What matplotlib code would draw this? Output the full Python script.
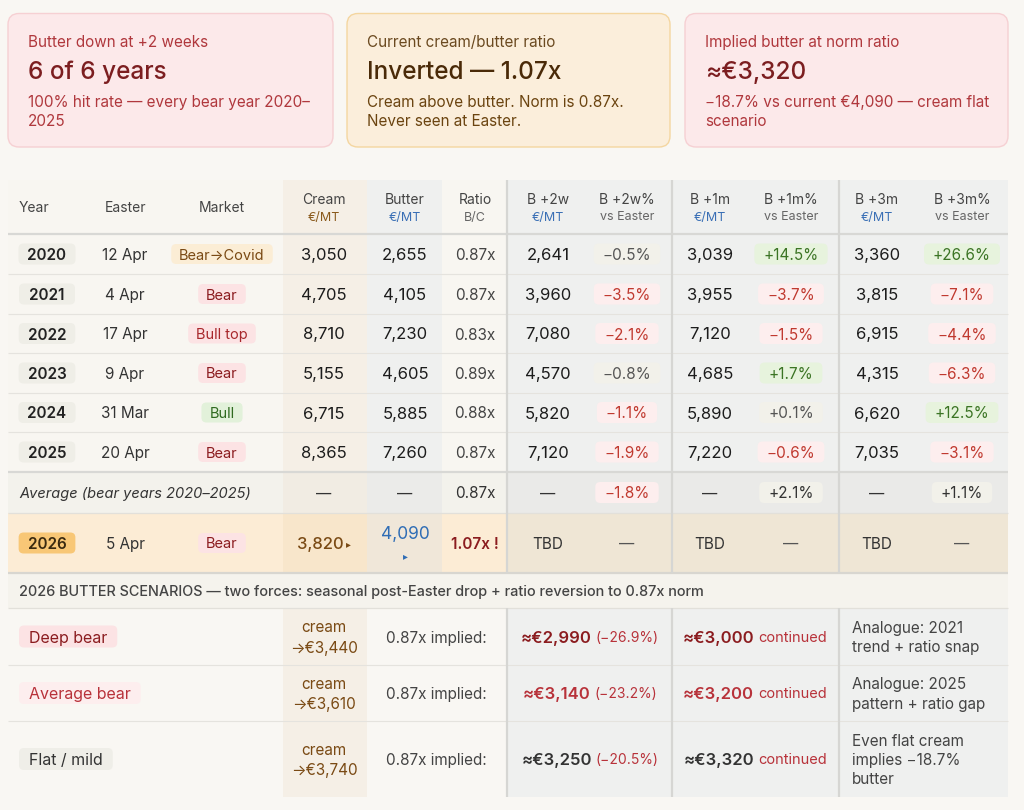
import matplotlib
matplotlib.use('Agg')
import matplotlib.pyplot as plt
from matplotlib.patches import FancyBboxPatch, Rectangle

FONT = ['Inter', 'DejaVu Sans']
plt.rcParams['font.family'] = FONT

# ---------------- data ----------------
card_labels = ['Butter down at +2 weeks', 'Current cream/butter ratio', 'Implied butter at norm ratio']
card_values = ['6 of 6 years', 'Inverted — 1.07x', '≈€3,320']
card_notes = [['100% hit rate — every bear year 2020–', '2025'],
              ['Cream above butter. Norm is 0.87x.', 'Never seen at Easter.'],
              ['−18.7% vs current €4,090 — cream flat', 'scenario']]

years = ['2020', '2021', '2022', '2023', '2024', '2025']
easter = ['12 Apr', '4 Apr', '17 Apr', '9 Apr', '31 Mar', '20 Apr']
market = ['Bear→Covid', 'Bear', 'Bull top', 'Bear', 'Bull', 'Bear']
market_tone = ['amber', 'red', 'red2', 'red', 'green', 'red']
cream = [3050, 4705, 8710, 5155, 6715, 8365]
butter = [2655, 4105, 7230, 4605, 5885, 7260]
ratio = [0.87, 0.87, 0.83, 0.89, 0.88, 0.87]
b2w = [2641, 3960, 7080, 4570, 5820, 7120]
b2w_pct = [-0.5, -3.5, -2.1, -0.8, -1.1, -1.9]
b2w_tone = ['neu', 'neg', 'neg', 'neu', 'neg', 'neg']
b1m = [3039, 3955, 7120, 4685, 5890, 7220]
b1m_pct = [14.5, -3.7, -1.5, 1.7, 0.1, -0.6]
b1m_tone = ['pos', 'neg', 'neg', 'pos', 'neu', 'neg']
b3m = [3360, 3815, 6915, 4315, 6620, 7035]
b3m_pct = [26.6, -7.1, -4.4, -6.3, 12.5, -3.1]
b3m_tone = ['pos', 'neg', 'neg', 'neg', 'pos', 'neg']

avg_label = 'Average (bear years 2020–2025)'
avg_ratio = 0.87
avg_pct = [-1.8, 2.1, 1.1]
avg_tone = ['neg', 'neu', 'neu']

cur_year = '2026'
cur_easter = '5 Apr'
cur_market = 'Bear'
cur_cream = 3820
cur_butter = 4090
cur_ratio = 1.07

scen_title = '2026 BUTTER SCENARIOS — two forces: seasonal post-Easter drop + ratio reversion to 0.87x norm'
scen_names = ['Deep bear', 'Average bear', 'Flat / mild']
scen_tone = ['red', 'red3', 'gray']
scen_cream = [3440, 3610, 3740]
scen_implied = [2990, 3140, 3250]
scen_implied_pct = [-26.9, -23.2, -20.5]
scen_cont = [3000, 3200, 3320]
scen_notes = [['Analogue: 2021', 'trend + ratio snap'],
              ['Analogue: 2025', 'pattern + ratio gap'],
              ['Even flat cream', 'implies −18.7%', 'butter']]

# ---------------- figure ----------------
W, H = 1024, 810
BG = '#f9f7f3'
fig = plt.figure(figsize=(W / 100, H / 100), dpi=100)
fig.patch.set_facecolor(BG)
ax = fig.add_axes([0, 0, 1, 1])
ax.set_xlim(0, W)
ax.set_ylim(H, 0)
ax.axis('off')
renderer = fig.canvas.get_renderer()
DY = 1.5  # small optical offset for vertically centred text


def txt(x, y, s, size=11, color='#222', weight='normal', ha='center', style='normal', z=6):
    return ax.text(x, y + DY, s, fontsize=size, color=color, fontweight=weight, ha=ha,
                   va='center', fontstyle=style, zorder=z)


def wpx(t):
    return t.get_window_extent(renderer=renderer).width


def rect(x0, y0, x1, y1, fc, z=1):
    ax.add_patch(Rectangle((x0, y0), x1 - x0, y1 - y0, facecolor=fc, edgecolor='none', zorder=z))


def rbox(x0, y0, w, h, fc, ec='none', r=5, z=4, lw=0):
    ax.add_patch(FancyBboxPatch((x0, y0), w, h, boxstyle=f'round,pad=0,rounding_size={r}',
                                facecolor=fc, edgecolor=ec, linewidth=lw, zorder=z))


def hline(y, x0, x1, color='#e5e3de', lw=0.8):
    ax.plot([x0, x1], [y, y], color=color, lw=lw, zorder=3, solid_capstyle='butt')


def vline(x, y0, y1, color='#d6d6d3', lw=1.6):
    ax.plot([x, x], [y0, y1], color=color, lw=lw, zorder=3, solid_capstyle='butt')


def badge(x, y, s, fc, tc, size=11, weight='normal', ha='center', padx=9, h=21, minw=0):
    t = txt(x, y, s, size, tc, weight, ha='center' if ha == 'center' else 'left')
    w = max(wpx(t) + 2 * padx, minw)
    if ha == 'center':
        x0 = x - w / 2
    else:
        x0 = x
        t.set_x(x + padx)
    rbox(x0, y - h / 2, w, h, fc, r=5)
    return t


def runs(xc, y, parts, gap=4):
    ts = [txt(0, y, s, size, c, wt, ha='left') for (s, size, c, wt) in parts]
    ws = [wpx(t) for t in ts]
    total = sum(ws) + gap * (len(ws) - 1)
    x = xc - total / 2
    for t, w in zip(ts, ws):
        t.set_x(x)
        x += w + gap


def pct(v):
    s = f'{abs(v):.1f}%'
    return ('+' if v > 0 else '−') + s


TONES = {
    'neg': ('#fdeeee', '#c0392f'),
    'pos': ('#e7f3dd', '#3b7424'),
    'neu': ('#f2f1ea', '#555555'),
    'amber': ('#fbedd5', '#7a4a14'),
    'red': ('#fce3e4', '#8b1c1f'),
    'red2': ('#fce3e4', '#a8282c'),
    'red3': ('#fdeeee', '#b8323a'),
    'green': ('#e2f1da', '#2f6a1f'),
    'gray': ('#efeee8', '#333333'),
}

# ---------------- cards ----------------
cards_x = [(8, 333), (347, 670), (685, 1008)]
card_fc = ['#fce9ea', '#fbeedb', '#fce9ea']
card_ec = ['#f6d0d3', '#f4d6a0', '#f6d0d3']
c_label = ['#b0383d', '#6b4a20', '#b0383d']
c_value = ['#7c1e20', '#4a2a08', '#7c1e20']
c_note = ['#b0383d', '#6b4410', '#b0383d']
for i, (x0, x1) in enumerate(cards_x):
    rbox(x0, 13.5, x1 - x0, 133.5, card_fc[i], ec=card_ec[i], r=11, lw=1.0, z=2)
    tx = x0 + 20
    txt(tx, 41, card_labels[i], 11, c_label[i], ha='left')
    txt(tx, 71, card_values[i], 17.5, c_value[i], weight='medium', ha='left')
    for j, line in enumerate(card_notes[i]):
        txt(tx, 101 + 19.5 * j, line, 11, c_note[i], ha='left')

# ---------------- table geometry ----------------
TL, TR = 8, 1008
X_CREAM0, X_BUT0, X_BUT1, X_GRAY = 283, 367, 442, 507
V_LINES = [507, 672, 839]
Y_TOP, Y_HEAD = 180, 234
row_edges = [234, 274, 314, 353, 393, 432, 472]
Y_AVG = (472, 513)
Y_CUR = (513, 573)
Y_SH = (573, 608)
scen_edges = [608, 665, 721, 797]

XC = dict(year=47, easter=125, market=222, cream=324, butter=405, ratio=475,
          c2w=548, p2w=627, c1m=710, p1m=791, c3m=877, p3m=962)

# backgrounds: main block
rect(TL, Y_TOP, X_GRAY, Y_AVG[0], '#f8f6f1')
rect(X_CREAM0, Y_TOP, X_BUT0, Y_AVG[0], '#f5efe6')
rect(X_BUT0, Y_TOP, X_BUT1, Y_AVG[0], '#eff0ef')
rect(X_GRAY, Y_TOP, TR, Y_AVG[0], '#eff0ef')
# average row
rect(TL, Y_AVG[0], X_GRAY, Y_AVG[1], '#f3f2ec')
rect(X_CREAM0, Y_AVG[0], X_BUT0, Y_AVG[1], '#f1ece3')
rect(X_BUT0, Y_AVG[0], X_BUT1, Y_AVG[1], '#ebebe9')
rect(X_GRAY, Y_AVG[0], TR, Y_AVG[1], '#eaeae8')
# current row
rect(TL, Y_CUR[0], X_GRAY, Y_CUR[1], '#fcecd5')
rect(X_CREAM0, Y_CUR[0], X_BUT0, Y_CUR[1], '#f8e6cb')
rect(X_BUT0, Y_CUR[0], X_BUT1, Y_CUR[1], '#f0e7d9')
rect(X_GRAY, Y_CUR[0], TR, Y_CUR[1], '#efe6d5')
# scenario header
rect(TL, Y_SH[0], TR, Y_SH[1], '#f5f3ed')
# scenario rows
rect(TL, scen_edges[0], X_GRAY, scen_edges[-1], BG)
rect(X_CREAM0, scen_edges[0], X_BUT0, scen_edges[-1], '#f5efe6')
rect(X_GRAY, scen_edges[0], TR, scen_edges[-1], '#eff0ef')

# lines
hline(Y_HEAD, TL, TR, '#d8d8d5', 1.6)
for y in row_edges[1:-1]:
    hline(y, TL, TR)
hline(Y_AVG[0], TL, TR, '#d8d8d5', 1.6)
hline(Y_AVG[1], TL, TR, '#e2e0da', 0.9)
hline(Y_CUR[1], TL, TR, '#d8d6d0', 1.6)
hline(Y_SH[1], TL, TR, '#e2e0da', 0.9)
for y in scen_edges[1:-1]:
    hline(y, TL, TR)
for x in V_LINES:
    vline(x, Y_TOP, Y_CUR[1])
    vline(x, scen_edges[0], scen_edges[-1])

# ---------------- header ----------------
HC, SUB = '#444444', '#666666'
BLUE, BROWN = '#3a6fb5', '#8a5a1c'
txt(19, 207, 'Year', 10, HC, ha='left')
txt(XC['easter'], 207, 'Easter', 10, HC)
txt(XC['market'], 207, 'Market', 10, HC)
heads = [('cream', 'Cream', '€/MT', BROWN), ('butter', 'Butter', '€/MT', BLUE),
         ('ratio', 'Ratio', 'B/C', SUB),
         ('c2w', 'B +2w', '€/MT', BLUE), ('p2w', 'B +2w%', 'vs Easter', SUB),
         ('c1m', 'B +1m', '€/MT', BLUE), ('p1m', 'B +1m%', 'vs Easter', SUB),
         ('c3m', 'B +3m', '€/MT', BLUE), ('p3m', 'B +3m%', 'vs Easter', SUB)]
for key, top, bot, col in heads:
    txt(XC[key], 198, top, 10, HC)
    txt(XC[key], 216, bot, 9, col)

# ---------------- data rows ----------------
NUM = '#1c1c1c'
for i in range(len(years)):
    y = (row_edges[i] + row_edges[i + 1]) / 2
    badge(XC['year'], y, years[i], '#efeee7', '#222222', 11, 'semibold', minw=56)
    txt(XC['easter'], y, easter[i], 11, '#333333')
    fc, tc = TONES[market_tone[i]]
    badge(XC['market'], y, market[i], fc, tc, 10.5, padx=8, h=20)
    txt(XC['cream'], y, f'{cream[i]:,}', 12, NUM)
    txt(XC['butter'], y, f'{butter[i]:,}', 12, NUM)
    txt(XC['ratio'], y, f'{ratio[i]:.2f}x', 11, '#444444')
    for vk, pk, vals, pvals, tones in [('c2w', 'p2w', b2w, b2w_pct, b2w_tone),
                                       ('c1m', 'p1m', b1m, b1m_pct, b1m_tone),
                                       ('c3m', 'p3m', b3m, b3m_pct, b3m_tone)]:
        txt(XC[vk], y, f'{vals[i]:,}', 12, NUM)
        fc, tc = TONES[tones[i]]
        badge(XC[pk], y, pct(pvals[i]), fc, tc, 11)

# average row
ya = sum(Y_AVG) / 2
txt(19, ya, avg_label, 10.5, '#333333', ha='left', style='italic')
for k in ['cream', 'butter', 'c2w', 'c1m', 'c3m']:
    txt(XC[k], ya, '—', 11, '#333333')
txt(XC['ratio'], ya, f'{avg_ratio:.2f}x', 11, '#333333')
for k, v, tn in zip(['p2w', 'p1m', 'p3m'], avg_pct, avg_tone):
    fc, tc = TONES[tn]
    if tn == 'neu':
        tc = '#333333'
    badge(XC[k], ya, pct(v), fc, tc, 11)

# current row
yc = sum(Y_CUR) / 2
badge(XC['year'], yc, cur_year, '#f8c776', '#3a2a10', 11, 'semibold', minw=56)
txt(XC['easter'], yc, cur_easter, 11, '#333333')
fc, tc = TONES['red']
badge(XC['market'], yc, cur_market, fc, tc, 10.5, padx=8, h=20)
runs(XC['cream'], yc, [(f'{cur_cream:,}', 12, '#7a4a14', 'medium'), ('▸', 7, '#7a4a14', 'normal')], gap=3)
txt(XC['butter'], yc - 10, f'{cur_butter:,}', 12.5, '#2f6db5')
txt(XC['butter'], yc + 12, '▸', 7, '#2f6db5')
txt(XC['ratio'], yc, f'{cur_ratio:.2f}x !', 11, '#8b1c1f', 'semibold')
for k in ['c2w', 'c1m', 'c3m']:
    txt(XC[k], yc, 'TBD', 11, '#333333')
for k in ['p2w', 'p1m', 'p3m']:
    txt(XC[k], yc, '—', 11, '#555555')

# ---------------- scenarios ----------------
txt(19, sum(Y_SH) / 2, scen_title, 10.4, '#444444', 'medium', ha='left')
imp_col = ['#8b1c1f', '#b8323a', '#333333']
for i, name in enumerate(scen_names):
    y0, y1 = scen_edges[i], scen_edges[i + 1]
    y = (y0 + y1) / 2
    fc, tc = TONES[scen_tone[i]]
    badge(19, y, name, fc, tc, 11.5, ha='left', padx=10, h=22)
    txt(XC['cream'], y - 10, 'cream', 11, '#7a4a14')
    txt(XC['cream'], y + 10, f'→€{scen_cream[i]:,}', 11, '#7a4a14')
    txt(487, y, '0.87x implied:', 11, '#444444', ha='right')
    runs(590, y, [(f'≈€{scen_implied[i]:,}', 12, imp_col[i], 'semibold'),
                  (f'({pct(scen_implied_pct[i])})', 10, '#b8323a', 'normal')], gap=4)
    runs(755, y, [(f'≈€{scen_cont[i]:,}', 12, imp_col[i], 'semibold'),
                  ('continued', 10.5, '#b8323a', 'normal')], gap=4)
    notes = scen_notes[i]
    n = len(notes)
    for j, line in enumerate(notes):
        txt(852, y + (j - (n - 1) / 2) * 19.5, line, 11, '#444444', ha='left')

fig.savefig('out.png', dpi=100, facecolor=BG)
